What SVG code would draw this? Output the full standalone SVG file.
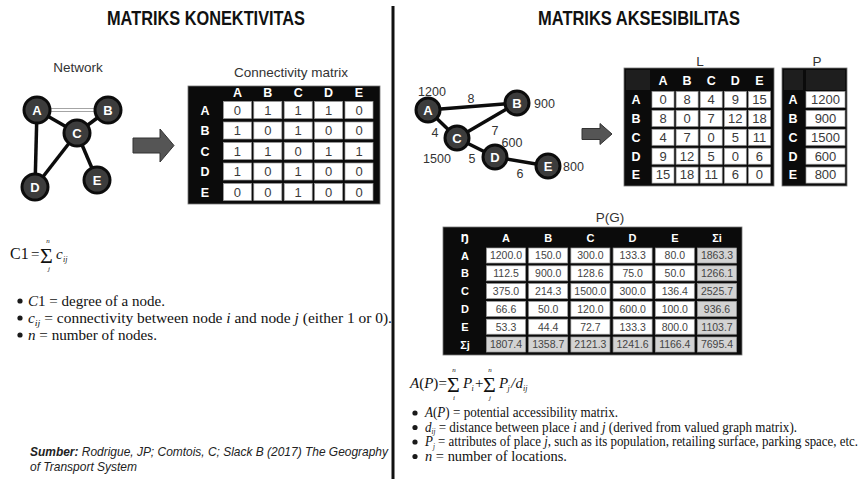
<svg xmlns="http://www.w3.org/2000/svg" width="861" height="479" viewBox="0 0 861 479">
  <style>
    .title { font: bold 21px 'Liberation Sans', Arial, sans-serif; fill: #111; text-anchor: middle; }
    .cap { font: 13.5px 'Liberation Sans', Arial, sans-serif; fill: #333; text-anchor: middle; }
    .box { fill: #0b0b0b; stroke: #777; stroke-width: 0.8; }
    .hcell { fill: #1e1e1e; }
    .cell { fill: #fff; stroke: #9a9a9a; stroke-width: 0.7; }
    .gcell { fill: #d3d3d3; stroke: #9a9a9a; stroke-width: 0.7; }
    .hd { font: bold 12.5px 'Liberation Sans', Arial, sans-serif; fill: #fff; text-anchor: middle; }
    .num { font: 13px 'Liberation Sans', Arial, sans-serif; fill: #3a3a3a; text-anchor: middle; }
    .hd2 { font: bold 11px 'Liberation Sans', Arial, sans-serif; fill: #fff; text-anchor: middle; }
    .num2 { font: 10.5px 'Liberation Sans', Arial, sans-serif; fill: #444; text-anchor: middle; }
    .node circle { fill: #3c3c3c; stroke: #0c0c0c; stroke-width: 3; }
    .node text { font: bold 13px 'Liberation Sans', Arial, sans-serif; fill: #fff; text-anchor: middle; }
    .edge { stroke: #0c0c0c; stroke-width: 3.5; fill: none; }
    .wt { font: 12.5px 'Liberation Sans', Arial, sans-serif; fill: #333; }
    .arrow { fill: #555; stroke: #333; stroke-width: 1; }
    .ser { font-family: 'Liberation Serif', 'Times New Roman', serif; font-size: 14px; fill: #111; }
    .it { font-style: italic; }
    .dot { fill: #1a1a1a; }
    .src { font: italic 13px 'Liberation Sans', Arial, sans-serif; fill: #222; }
  </style>

  <rect width="861" height="479" fill="#fff"/>

  <!-- divider between the two halves -->
  <line x1="393" y1="6" x2="393" y2="479" stroke="#111" stroke-width="3"/>

  <!-- headings -->
  <text class="title" x="206" y="25" textLength="198" lengthAdjust="spacingAndGlyphs">MATRIKS KONEKTIVITAS</text>
  <text class="title" x="639" y="25" textLength="202" lengthAdjust="spacingAndGlyphs">MATRIKS AKSESIBILITAS</text>

  <!-- ===== left: simple network ===== -->
  <text class="cap" x="78" y="72">Network</text>
  <g id="net-left-edges">
    <line class="edge" x1="37" y1="110" x2="108" y2="110" stroke-width="8"/>
    <line x1="50" y1="110" x2="95" y2="110" stroke="#fff" stroke-width="3"/>
    <line class="edge" x1="37" y1="110" x2="77" y2="133"/>
    <line class="edge" x1="108" y1="110" x2="77" y2="133"/>
    <line class="edge" x1="37" y1="110" x2="35" y2="187"/>
    <line class="edge" x1="77" y1="133" x2="35" y2="187"/>
    <line class="edge" x1="77" y1="133" x2="97" y2="180"/>
  </g>
  <g id="nl-A" class="node"><circle cx="37" cy="110" r="13"/><text x="37" y="114.7">A</text></g>
  <g id="nl-B" class="node"><circle cx="108" cy="110" r="13"/><text x="108" y="114.7">B</text></g>
  <g id="nl-C" class="node"><circle cx="77" cy="133" r="13"/><text x="77" y="137.7">C</text></g>
  <g id="nl-D" class="node"><circle cx="35" cy="187" r="13"/><text x="35" y="191.7">D</text></g>
  <g id="nl-E" class="node"><circle cx="97" cy="180" r="13"/><text x="97" y="184.7">E</text></g>

  <path class="arrow" d="M133,138 H160 V129 L174,145.5 L160,162 V153 H133 Z"/>

  <!-- ===== left: connectivity matrix ===== -->
  <text class="cap" x="291" y="77" font-size="14">Connectivity matrix</text>
  <g id="conn-matrix">
    <rect class="box" x="188" y="86" width="192" height="118"/>
    <g class="hd">
      <text x="237.4" y="97">A</text><text x="267.8" y="97">B</text><text x="298.2" y="97">C</text><text x="328.6" y="97">D</text><text x="359" y="97">E</text>
      <text x="205" y="114.7">A</text><text x="205" y="135.2">B</text><text x="205" y="155.7">C</text><text x="205" y="176.2">D</text><text x="205" y="196.7">E</text>
    </g>
    <g>
      <rect class="cell" x="223.4" y="101.5" width="28" height="17"/><rect class="cell" x="253.8" y="101.5" width="28" height="17"/><rect class="cell" x="284.2" y="101.5" width="28" height="17"/><rect class="cell" x="314.6" y="101.5" width="28" height="17"/><rect class="cell" x="345" y="101.5" width="28" height="17"/>
      <rect class="cell" x="223.4" y="122" width="28" height="17"/><rect class="cell" x="253.8" y="122" width="28" height="17"/><rect class="cell" x="284.2" y="122" width="28" height="17"/><rect class="cell" x="314.6" y="122" width="28" height="17"/><rect class="cell" x="345" y="122" width="28" height="17"/>
      <rect class="cell" x="223.4" y="142.5" width="28" height="17"/><rect class="cell" x="253.8" y="142.5" width="28" height="17"/><rect class="cell" x="284.2" y="142.5" width="28" height="17"/><rect class="cell" x="314.6" y="142.5" width="28" height="17"/><rect class="cell" x="345" y="142.5" width="28" height="17"/>
      <rect class="cell" x="223.4" y="163" width="28" height="17"/><rect class="cell" x="253.8" y="163" width="28" height="17"/><rect class="cell" x="284.2" y="163" width="28" height="17"/><rect class="cell" x="314.6" y="163" width="28" height="17"/><rect class="cell" x="345" y="163" width="28" height="17"/>
      <rect class="cell" x="223.4" y="183.5" width="28" height="17"/><rect class="cell" x="253.8" y="183.5" width="28" height="17"/><rect class="cell" x="284.2" y="183.5" width="28" height="17"/><rect class="cell" x="314.6" y="183.5" width="28" height="17"/><rect class="cell" x="345" y="183.5" width="28" height="17"/>
    </g>
    <g class="num">
      <text x="237.4" y="114.7">0</text><text x="267.8" y="114.7">1</text><text x="298.2" y="114.7">1</text><text x="328.6" y="114.7">1</text><text x="359" y="114.7">0</text>
      <text x="237.4" y="135.2">1</text><text x="267.8" y="135.2">0</text><text x="298.2" y="135.2">1</text><text x="328.6" y="135.2">0</text><text x="359" y="135.2">0</text>
      <text x="237.4" y="155.7">1</text><text x="267.8" y="155.7">1</text><text x="298.2" y="155.7">0</text><text x="328.6" y="155.7">1</text><text x="359" y="155.7">1</text>
      <text x="237.4" y="176.2">1</text><text x="267.8" y="176.2">0</text><text x="298.2" y="176.2">1</text><text x="328.6" y="176.2">0</text><text x="359" y="176.2">0</text>
      <text x="237.4" y="196.7">0</text><text x="267.8" y="196.7">0</text><text x="298.2" y="196.7">1</text><text x="328.6" y="196.7">0</text><text x="359" y="196.7">0</text>
    </g>
  </g>

  <!-- degree formula -->
  <g id="formula-c1" class="ser">
    <text x="10" y="259" font-size="16">C1</text>
    <text x="31" y="259" font-size="15">=</text>
    <text x="40" y="263" font-size="22">Σ</text>
    <text x="48" y="243" font-size="7" class="it" text-anchor="middle">n</text>
    <text x="49" y="271" font-size="7" class="it" text-anchor="middle">j</text>
    <text x="56" y="259" font-size="15" class="it">c</text>
    <text x="63" y="262" font-size="8" class="it">ij</text>
  </g>
  <g id="legend-c1" class="ser">
    <circle class="dot" cx="20" cy="301" r="2.6"/>
    <circle class="dot" cx="20" cy="318" r="2.6"/>
    <circle class="dot" cx="20" cy="335" r="2.6"/>
    <text x="28" y="305.5" textLength="137" lengthAdjust="spacingAndGlyphs"><tspan class="it">C</tspan>1 = degree of a node.</text>
    <text x="28" y="322.5" textLength="364" lengthAdjust="spacingAndGlyphs"><tspan class="it">c</tspan><tspan class="it" font-size="9" dy="3">ij</tspan><tspan dy="-3"> = connectivity between node </tspan><tspan class="it">i</tspan> and node <tspan class="it">j</tspan> (either 1 or 0).</text>
    <text x="28" y="339.5" textLength="129" lengthAdjust="spacingAndGlyphs"><tspan class="it">n</tspan> = number of nodes.</text>
  </g>

  <text class="src" x="30" y="456" textLength="358" lengthAdjust="spacingAndGlyphs"><tspan font-weight="bold">Sumber:</tspan> Rodrigue, JP; Comtois, C; Slack B (2017) The Geography</text>
  <text class="src" x="30" y="471" textLength="107" lengthAdjust="spacingAndGlyphs">of Transport System</text>

  <!-- ===== right: valued network ===== -->
  <g id="net-right-edges">
    <line class="edge" x1="428" y1="110" x2="517" y2="103"/>
    <line class="edge" x1="428" y1="110" x2="457" y2="138"/>
    <line class="edge" x1="517" y1="103" x2="457" y2="138"/>
    <line class="edge" x1="457" y1="138" x2="495" y2="157"/>
    <line class="edge" x1="495" y1="157" x2="548" y2="166"/>
  </g>
  <g id="nr-A" class="node"><circle cx="428" cy="110" r="12"/><text x="428" y="114.7">A</text></g>
  <g id="nr-B" class="node"><circle cx="517" cy="103" r="12"/><text x="517" y="107.7">B</text></g>
  <g id="nr-C" class="node"><circle cx="457" cy="138" r="12"/><text x="457" y="142.7">C</text></g>
  <g id="nr-D" class="node"><circle cx="495" cy="157" r="12"/><text x="495" y="161.7">D</text></g>
  <g id="nr-E" class="node"><circle cx="548" cy="166" r="12"/><text x="548" y="170.7">E</text></g>
  <g id="net-right-labels" class="wt">
    <text x="432" y="95.5" text-anchor="middle">1200</text>
    <text x="471" y="102.5" text-anchor="middle">8</text>
    <text x="534" y="108">900</text>
    <text x="435" y="136.5" text-anchor="middle">4</text>
    <text x="495" y="134.5" text-anchor="middle">7</text>
    <text x="512" y="146.5" text-anchor="middle">600</text>
    <text x="437" y="162.5" text-anchor="middle">1500</text>
    <text x="472" y="162.5" text-anchor="middle">5</text>
    <text x="520" y="177.5" text-anchor="middle">6</text>
    <text x="563" y="171">800</text>
  </g>

  <path class="arrow" d="M582,128.5 H600 V123.5 L612,134 L600,144.5 V139.5 H582 Z"/>

  <!-- ===== L matrix ===== -->
  <text class="cap" x="700" y="66" font-size="15" fill="#222">L</text>
  <g id="matrix-L">
    <rect class="box" x="624" y="68" width="150" height="118"/>
    <rect class="hcell" x="626" y="70" width="24" height="20"/>
    <g class="hd" font-size="12">
      <text x="663" y="84.5">A</text><text x="687.1" y="84.5">B</text><text x="711.2" y="84.5">C</text><text x="735.3" y="84.5">D</text><text x="759.4" y="84.5">E</text>
      <text x="636" y="103.8">A</text><text x="636" y="122.7">B</text><text x="636" y="141.6">C</text><text x="636" y="160.5">D</text><text x="636" y="179.4">E</text>
    </g>
    <g>
      <rect class="cell" x="652" y="91.5" width="22" height="16"/><rect class="cell" x="676.1" y="91.5" width="22" height="16"/><rect class="cell" x="700.2" y="91.5" width="22" height="16"/><rect class="cell" x="724.3" y="91.5" width="22" height="16"/><rect class="cell" x="748.4" y="91.5" width="22" height="16"/>
      <rect class="cell" x="652" y="110.4" width="22" height="16"/><rect class="cell" x="676.1" y="110.4" width="22" height="16"/><rect class="cell" x="700.2" y="110.4" width="22" height="16"/><rect class="cell" x="724.3" y="110.4" width="22" height="16"/><rect class="cell" x="748.4" y="110.4" width="22" height="16"/>
      <rect class="cell" x="652" y="129.3" width="22" height="16"/><rect class="cell" x="676.1" y="129.3" width="22" height="16"/><rect class="cell" x="700.2" y="129.3" width="22" height="16"/><rect class="cell" x="724.3" y="129.3" width="22" height="16"/><rect class="cell" x="748.4" y="129.3" width="22" height="16"/>
      <rect class="cell" x="652" y="148.2" width="22" height="16"/><rect class="cell" x="676.1" y="148.2" width="22" height="16"/><rect class="cell" x="700.2" y="148.2" width="22" height="16"/><rect class="cell" x="724.3" y="148.2" width="22" height="16"/><rect class="cell" x="748.4" y="148.2" width="22" height="16"/>
      <rect class="cell" x="652" y="167.1" width="22" height="16"/><rect class="cell" x="676.1" y="167.1" width="22" height="16"/><rect class="cell" x="700.2" y="167.1" width="22" height="16"/><rect class="cell" x="724.3" y="167.1" width="22" height="16"/><rect class="cell" x="748.4" y="167.1" width="22" height="16"/>
    </g>
    <g class="num" font-size="12">
      <text x="663" y="103.8">0</text><text x="687.1" y="103.8">8</text><text x="711.2" y="103.8">4</text><text x="735.3" y="103.8">9</text><text x="759.4" y="103.8">15</text>
      <text x="663" y="122.7">8</text><text x="687.1" y="122.7">0</text><text x="711.2" y="122.7">7</text><text x="735.3" y="122.7">12</text><text x="759.4" y="122.7">18</text>
      <text x="663" y="141.6">4</text><text x="687.1" y="141.6">7</text><text x="711.2" y="141.6">0</text><text x="735.3" y="141.6">5</text><text x="759.4" y="141.6">11</text>
      <text x="663" y="160.5">9</text><text x="687.1" y="160.5">12</text><text x="711.2" y="160.5">5</text><text x="735.3" y="160.5">0</text><text x="759.4" y="160.5">6</text>
      <text x="663" y="179.4">15</text><text x="687.1" y="179.4">18</text><text x="711.2" y="179.4">11</text><text x="735.3" y="179.4">6</text><text x="759.4" y="179.4">0</text>
    </g>
  </g>

  <!-- ===== P vector ===== -->
  <text class="cap" x="817" y="66" font-size="15" fill="#222">P</text>
  <g id="matrix-P">
    <rect class="box" x="782" y="68" width="65" height="118"/>
    <rect class="hcell" x="784" y="70" width="19" height="20"/>
    <rect class="hcell" x="806" y="70" width="39" height="20"/>
    <g class="hd" font-size="12">
      <text x="793" y="103.8">A</text><text x="793" y="122.7">B</text><text x="793" y="141.6">C</text><text x="793" y="160.5">D</text><text x="793" y="179.4">E</text>
    </g>
    <rect class="cell" x="806" y="91.5" width="39" height="16"/>
    <rect class="cell" x="806" y="110.4" width="39" height="16"/>
    <rect class="cell" x="806" y="129.3" width="39" height="16"/>
    <rect class="cell" x="806" y="148.2" width="39" height="16"/>
    <rect class="cell" x="806" y="167.1" width="39" height="16"/>
    <g class="num" font-size="12">
      <text x="825.5" y="103.8">1200</text><text x="825.5" y="122.7">900</text><text x="825.5" y="141.6">1500</text><text x="825.5" y="160.5">600</text><text x="825.5" y="179.4">800</text>
    </g>
  </g>

  <!-- ===== P(G) accessibility table ===== -->
  <text class="cap" x="610" y="222" font-size="15" fill="#222">P(G)</text>
  <g id="matrix-PG">
    <rect class="box" x="443" y="227" width="299" height="128"/>
    <g class="hd2">
      <text x="465" y="241.5" font-family="'DejaVu Sans', sans-serif" font-size="10">Ŋ</text>
      <text x="506" y="241.5">A</text><text x="548.2" y="241.5">B</text><text x="590.4" y="241.5">C</text><text x="632.6" y="241.5">D</text><text x="674.8" y="241.5">E</text><text x="717" y="241.5">Σi</text>
      <text x="465" y="259.5">A</text><text x="465" y="277.3">B</text><text x="465" y="295.1">C</text><text x="465" y="312.9">D</text><text x="465" y="330.7">E</text><text x="465" y="348.5">Σj</text>
    </g>
    <g>
      <rect class="cell" x="486.5" y="248" width="39" height="15"/><rect class="cell" x="528.7" y="248" width="39" height="15"/><rect class="cell" x="570.9" y="248" width="39" height="15"/><rect class="cell" x="613.1" y="248" width="39" height="15"/><rect class="cell" x="655.3" y="248" width="39" height="15"/><rect class="gcell" x="697.5" y="248" width="39" height="15"/>
      <rect class="cell" x="486.5" y="265.8" width="39" height="15"/><rect class="cell" x="528.7" y="265.8" width="39" height="15"/><rect class="cell" x="570.9" y="265.8" width="39" height="15"/><rect class="cell" x="613.1" y="265.8" width="39" height="15"/><rect class="cell" x="655.3" y="265.8" width="39" height="15"/><rect class="gcell" x="697.5" y="265.8" width="39" height="15"/>
      <rect class="cell" x="486.5" y="283.6" width="39" height="15"/><rect class="cell" x="528.7" y="283.6" width="39" height="15"/><rect class="cell" x="570.9" y="283.6" width="39" height="15"/><rect class="cell" x="613.1" y="283.6" width="39" height="15"/><rect class="cell" x="655.3" y="283.6" width="39" height="15"/><rect class="gcell" x="697.5" y="283.6" width="39" height="15"/>
      <rect class="cell" x="486.5" y="301.4" width="39" height="15"/><rect class="cell" x="528.7" y="301.4" width="39" height="15"/><rect class="cell" x="570.9" y="301.4" width="39" height="15"/><rect class="cell" x="613.1" y="301.4" width="39" height="15"/><rect class="cell" x="655.3" y="301.4" width="39" height="15"/><rect class="gcell" x="697.5" y="301.4" width="39" height="15"/>
      <rect class="cell" x="486.5" y="319.2" width="39" height="15"/><rect class="cell" x="528.7" y="319.2" width="39" height="15"/><rect class="cell" x="570.9" y="319.2" width="39" height="15"/><rect class="cell" x="613.1" y="319.2" width="39" height="15"/><rect class="cell" x="655.3" y="319.2" width="39" height="15"/><rect class="gcell" x="697.5" y="319.2" width="39" height="15"/>
      <rect class="gcell" x="486.5" y="337" width="39" height="15"/><rect class="gcell" x="528.7" y="337" width="39" height="15"/><rect class="gcell" x="570.9" y="337" width="39" height="15"/><rect class="gcell" x="613.1" y="337" width="39" height="15"/><rect class="gcell" x="655.3" y="337" width="39" height="15"/><rect class="gcell" x="697.5" y="337" width="39" height="15"/>
    </g>
    <g class="num2">
      <text x="506" y="259.3">1200.0</text><text x="548.2" y="259.3">150.0</text><text x="590.4" y="259.3">300.0</text><text x="632.6" y="259.3">133.3</text><text x="674.8" y="259.3">80.0</text><text x="717" y="259.3">1863.3</text>
      <text x="506" y="277.1">112.5</text><text x="548.2" y="277.1">900.0</text><text x="590.4" y="277.1">128.6</text><text x="632.6" y="277.1">75.0</text><text x="674.8" y="277.1">50.0</text><text x="717" y="277.1">1266.1</text>
      <text x="506" y="294.9">375.0</text><text x="548.2" y="294.9">214.3</text><text x="590.4" y="294.9">1500.0</text><text x="632.6" y="294.9">300.0</text><text x="674.8" y="294.9">136.4</text><text x="717" y="294.9">2525.7</text>
      <text x="506" y="312.7">66.6</text><text x="548.2" y="312.7">50.0</text><text x="590.4" y="312.7">120.0</text><text x="632.6" y="312.7">600.0</text><text x="674.8" y="312.7">100.0</text><text x="717" y="312.7">936.6</text>
      <text x="506" y="330.5">53.3</text><text x="548.2" y="330.5">44.4</text><text x="590.4" y="330.5">72.7</text><text x="632.6" y="330.5">133.3</text><text x="674.8" y="330.5">800.0</text><text x="717" y="330.5">1103.7</text>
      <text x="506" y="348.3">1807.4</text><text x="548.2" y="348.3">1358.7</text><text x="590.4" y="348.3">2121.3</text><text x="632.6" y="348.3">1241.6</text><text x="674.8" y="348.3">1166.4</text><text x="717" y="348.3">7695.4</text>
    </g>
  </g>

  <!-- potential accessibility formula -->
  <g id="formula-ap" class="ser">
    <text x="410" y="388" font-size="15"><tspan class="it">A</tspan>(<tspan class="it">P</tspan>)</text>
    <text x="438.5" y="388" font-size="15">=</text>
    <text x="447" y="392" font-size="22">Σ</text>
    <text x="454" y="372" font-size="7" class="it" text-anchor="middle">n</text>
    <text x="454" y="400" font-size="7" class="it" text-anchor="middle">i</text>
    <text x="463" y="388" font-size="15" class="it">P</text>
    <text x="471.5" y="391" font-size="8" class="it">i</text>
    <text x="475" y="388" font-size="15">+</text>
    <text x="483" y="392" font-size="22">Σ</text>
    <text x="490" y="372" font-size="7" class="it" text-anchor="middle">n</text>
    <text x="490" y="400" font-size="7" class="it" text-anchor="middle">j</text>
    <text x="499" y="388" font-size="15" class="it">P</text>
    <text x="507.5" y="391" font-size="8" class="it">j</text>
    <text x="511" y="388" font-size="15" class="it">/</text>
    <text x="515.5" y="388" font-size="15" class="it">d</text>
    <text x="523" y="391" font-size="8" class="it">ij</text>
  </g>
  <g id="legend-ap" class="ser" font-size="12.5">
    <circle class="dot" cx="415" cy="413" r="2.6"/>
    <circle class="dot" cx="415" cy="427.5" r="2.6"/>
    <circle class="dot" cx="415" cy="442" r="2.6"/>
    <circle class="dot" cx="415" cy="456.5" r="2.6"/>
    <text x="425" y="417" textLength="193" lengthAdjust="spacingAndGlyphs"><tspan class="it">A</tspan>(<tspan class="it">P</tspan>) = potential accessibility matrix.</text>
    <text x="425" y="431.5" textLength="372" lengthAdjust="spacingAndGlyphs"><tspan class="it">d</tspan><tspan class="it" font-size="7.5" dy="2.5">ij</tspan><tspan dy="-2.5"> = distance between place </tspan><tspan class="it">i</tspan> and <tspan class="it">j</tspan> (derived from valued graph matrix).</text>
    <text x="425" y="446" textLength="433" lengthAdjust="spacingAndGlyphs"><tspan class="it">P</tspan><tspan class="it" font-size="7.5" dy="2.5">j</tspan><tspan dy="-2.5"> = attributes of place </tspan><tspan class="it">j</tspan>, such as its population, retailing surface, parking space, etc.</text>
    <text x="425" y="460.5" textLength="142" lengthAdjust="spacingAndGlyphs"><tspan class="it">n</tspan> = number of locations.</text>
  </g>
</svg>
